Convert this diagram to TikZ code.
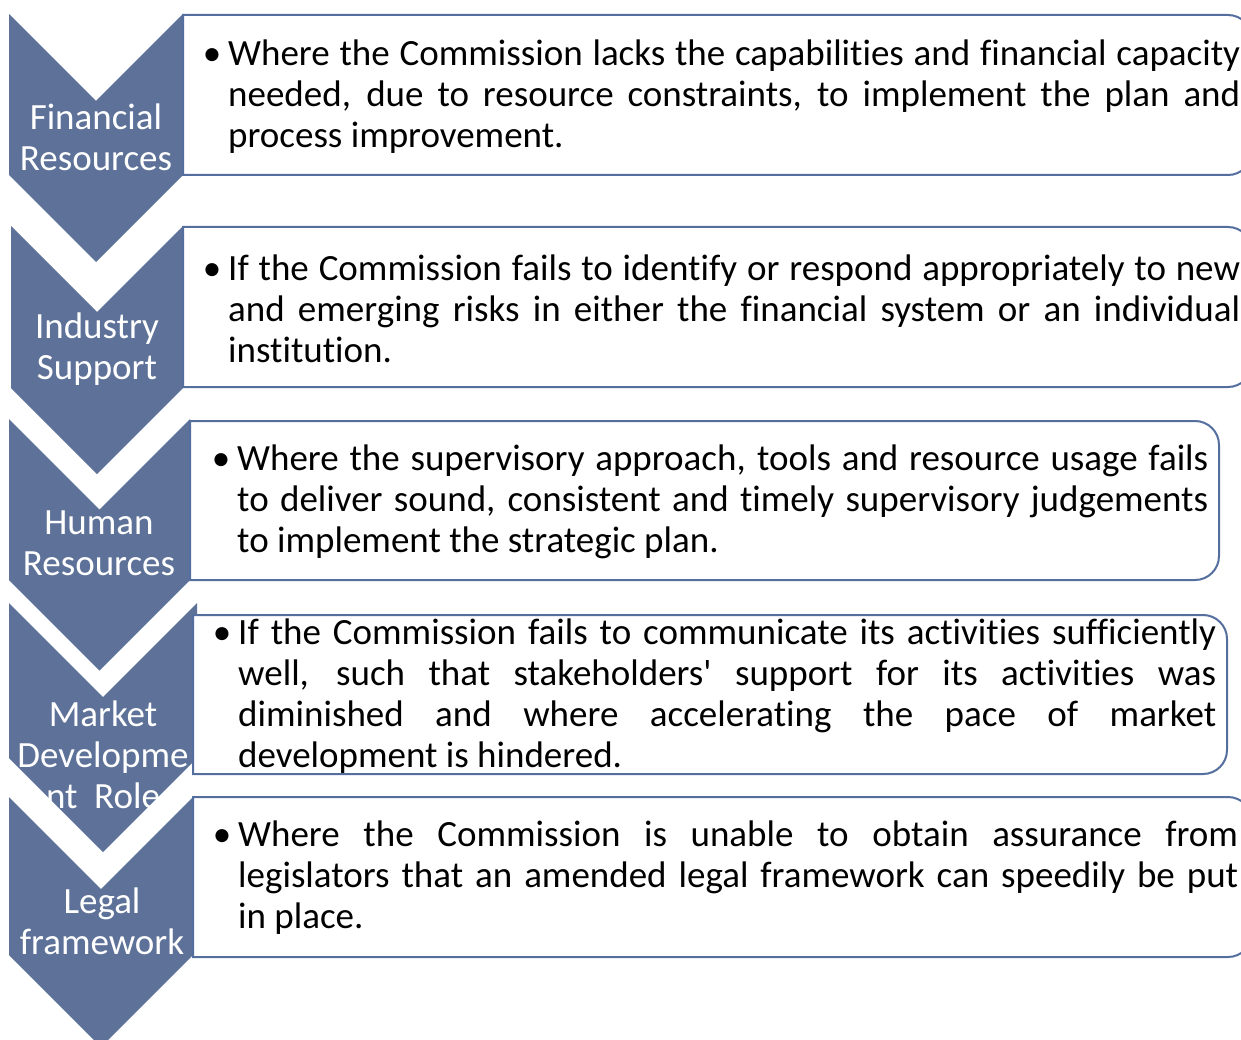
\documentclass[tikz,border=0pt]{standalone}
\usepackage{fontspec}
\newfontfamily\cf{Carlito}[Ligatures=NoCommon]
\definecolor{chev}{RGB}{94,114,153}
\definecolor{edge}{RGB}{84,110,158}
% justified full line / ragged last line of a bullet paragraph
\newcommand\fullline[2]{\hbox to #1{#2}}
\newcommand\lastline[1]{\hbox{#1}}
\newcommand\bul{\llap{•\hspace{7pt}}}
\tikzset{
  chevron/.style={fill=chev, draw=none},
  riskbox/.style={fill=white, draw=edge, line width=2pt},
  chevtext/.style={text=white, font=\cf\fontsize{37}{41}\selectfont, align=center, inner sep=0pt},
  risktext/.style={font=\cf\fontsize{37}{41}\selectfont, inner sep=0pt, anchor=west}
}
% box with square left corners and rounded right corners
\newcommand\rbox[4]{% left, top, right, bottom
  \draw[riskbox] (#1,#2) -- ({#3-24},#2) arc[start angle=-90, end angle=0, radius=24]
    -- (#3,{#4-24}) arc[start angle=0, end angle=90, radius=24] -- (#1,#4) -- cycle;}
\begin{document}
\begin{tikzpicture}[x=1pt,y=-1pt]
\useasboundingbox (0,0) rectangle (1241,1040);
\clip (0,0) rectangle (1241,1040);

% chevrons
\path[chevron] (9,14) -- (96,101) -- (183,14) -- (183,175) -- (96,262) -- (9,175) -- cycle;
\path[chevron] (11,226) -- (97,312) -- (183,226) -- (183,388) -- (97,474) -- (11,388) -- cycle;
\path[chevron] (9,419) -- (99.5,509.5) -- (190,419) -- (190,580) -- (99.5,670.5) -- (9,580) -- cycle;
\path[chevron] (9,603) -- (103,697) -- (197,603) -- (197,758) -- (103,852) -- (9,758) -- cycle;
\path[chevron] (9,797) -- (101,889) -- (193,797) -- (193,955) -- (101,1047) -- (9,955) -- cycle;

% chevron labels
\node[chevtext] (c1) at (96,137) {Financial\\Resources};
\node[chevtext] (c2) at (97,349) {Industry\\Support};
\node[chevtext] (c3) at (99,543) {Human\\Resources};
\node[chevtext] (c4) at (103,755) {Market\\Developme\\nt\ \ Role};
\node[chevtext] (c5) at (102,921) {Legal\\framework};

% text boxes
\rbox{183}{15}{1252}{175}
\rbox{183}{227}{1252}{387}
\rbox{190}{421}{1219}{580}
\rbox{193}{615}{1227}{774}
\rbox{193}{797}{1252}{957}

\node[risktext] (t1) at (228,97) {\vbox{%
  \fullline{1012pt}{\bul Where the Commission lacks the capabilities and financial capacity}
  \fullline{1012pt}{needed, due to resource constraints, to implement the plan and}
  \lastline{process improvement.}}};
\node[risktext] (t2) at (228,309) {\vbox{%
  \fullline{1012pt}{\bul If the Commission fails to identify or respond appropriately to new}
  \fullline{1012pt}{and emerging risks in either the financial system or an individual}
  \lastline{institution.}}};
\node[risktext] (t3) at (237,502) {\vbox{%
  \fullline{971pt}{\bul Where the supervisory approach, tools and resource usage fails}
  \fullline{971pt}{to deliver sound, consistent and timely supervisory judgements}
  \lastline{to implement the strategic plan.}}};
\node[risktext] (t4) at (238,696) {\vbox{%
  \fullline{978pt}{\bul If the Commission fails to communicate its activities sufficiently}
  \fullline{978pt}{well, such that stakeholders' support for its activities was}
  \fullline{978pt}{diminished and where accelerating the pace of market}
  \lastline{development is hindered.}}};
\node[risktext] (t5) at (238,878) {\vbox{%
  \fullline{1000pt}{\bul Where the Commission is unable to obtain assurance from}
  \fullline{1000pt}{legislators that an amended legal framework can speedily be put}
  \lastline{in place.}}};
\end{tikzpicture}
\end{document}
